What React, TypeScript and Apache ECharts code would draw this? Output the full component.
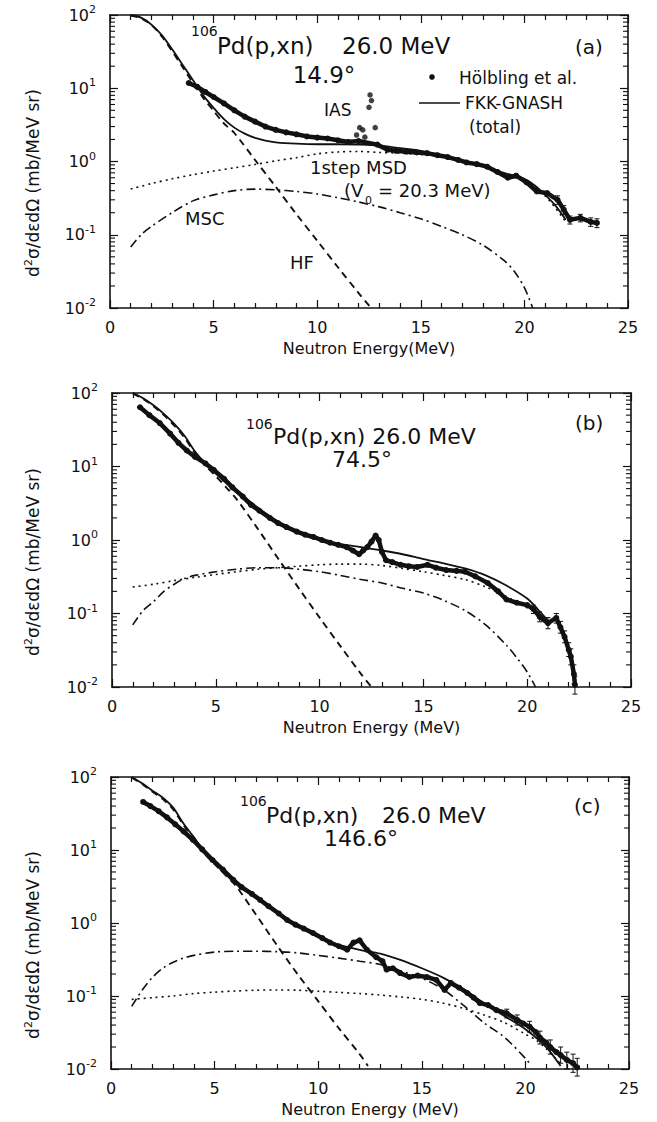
import React, { useEffect, useRef } from "react";
import * as echarts from "echarts";

const FONT = '"DejaVu Sans", "Liberation Sans", sans-serif';
const INK = "#111";

// ---- axes ----
const xMin = 0;
const xMax = 25;
const xStep = 5;
const yMin = 0.01;
const yMax = 100;
const logMinorTicks = [
  0.02, 0.03, 0.04, 0.05, 0.06, 0.07, 0.08, 0.09,
  0.2, 0.3, 0.4, 0.5, 0.6, 0.7, 0.8, 0.9,
  2, 3, 4, 5, 6, 7, 8, 9,
  20, 30, 40, 50, 60, 70, 80, 90,
];

// ---- panel (a) 14.9 deg ----
const aTotal = [[1.0,100],[1.5,92],[2.0,74],[2.5,53],[3.0,34],[3.5,21],[4.0,13],[4.5,8.0],[5.0,5.4],[5.5,3.8],[6.0,2.9],[6.5,2.4],[7.0,2.1],[7.5,1.93],[8.0,1.83],[9.0,1.75],[10.0,1.72],[11.0,1.72],[12.0,1.70],[13.0,1.65],[14.0,1.52],[15.0,1.40],[16.0,1.2],[17.0,1.02],[18.0,0.86],[19.0,0.70],[19.5,0.64],[20.0,0.58],[20.5,0.47],[21.0,0.35],[21.5,0.25],[22.0,0.16]];
const aHF = [[1.0,98],[1.5,90],[2,73],[2.5,51],[3,32],[3.5,19.5],[4,11.8],[4.5,7.4],[5,4.9],[5.5,3.3],[6,2.45],[7,1.05],[8,0.45],[9,0.19],[10,0.083],[11,0.036],[12,0.016],[12.6,0.01]];
const aMSD = [[1.0,0.42],[2,0.5],[3,0.58],[4,0.66],[5,0.74],[6,0.82],[7,0.91],[8,1.02],[9,1.13],[10,1.27],[11,1.35],[12,1.37],[13,1.33],[14,1.3],[15,1.25],[16,1.15],[17,1.0],[18,0.86],[19,0.7],[20,0.55],[21,0.34],[22,0.15]];
const aMSC = [[1.0,0.068],[1.5,0.1],[2,0.13],[3,0.2],[4,0.29],[5,0.35],[6,0.4],[7,0.42],[8,0.41],[9,0.39],[10,0.36],[11,0.32],[12,0.28],[13,0.24],[14,0.2],[15,0.165],[16,0.13],[17,0.1],[18,0.072],[19,0.045],[19.5,0.032],[20,0.019],[20.4,0.01]];
const aData = [[3.8,11.8],[4.2,10.5],[4.6,8.9],[5.0,7.6],[5.5,6.2],[6.0,5.0],[6.5,4.1],[7.0,3.5],[7.5,3.0],[8.0,2.7],[8.5,2.5],[9.0,2.35],[9.5,2.2],[10.0,2.12],[10.5,2.06],[11.0,1.95],[11.5,1.85],[12.0,1.9],[12.9,1.7],[13.4,1.45],[13.8,1.4],[14.3,1.36],[14.8,1.33],[15.3,1.3],[15.8,1.22],[16.3,1.15],[16.8,1.05],[17.2,0.97],[17.7,0.92],[18.2,0.85],[18.7,0.72],[19.2,0.6],[19.6,0.64],[20.1,0.52],[20.6,0.39],[21.1,0.37],[21.6,0.30],[21.9,0.22],[22.2,0.16],[22.7,0.17],[23.2,0.15],[23.5,0.145]];
const aIAS = [[11.9,2.3],[12.05,2.9],[12.2,2.7],[12.3,2.15],[12.5,5.5],[12.55,8.1],[12.62,6.8],[12.8,2.9]];
const aErr = [[21.6,0.26,0.34],[21.9,0.19,0.25],[22.2,0.14,0.18],[22.7,0.15,0.19],[23.2,0.13,0.17],[23.5,0.125,0.165]];

// ---- panel (b) 74.5 deg ----
const bTotal = [[1.0,100],[1.5,85],[2,68],[2.5,52],[3,38],[3.5,26],[4,16],[4.5,11],[5,8.0],[5.5,6.0],[6,4.6],[6.5,3.6],[7,2.8],[7.5,2.2],[8,1.78],[8.5,1.45],[9,1.25],[9.5,1.12],[10,1.0],[11,0.88],[12,0.80],[13,0.72],[14,0.64],[15,0.55],[16,0.48],[17,0.41],[18,0.33],[19,0.24],[20,0.16],[20.5,0.115],[21,0.08]];
const bHF = [[1.0,98],[1.5,83],[2,66],[2.5,50],[3,36],[3.5,24.5],[4,15],[4.5,10.3],[5,7.4],[5.5,5.2],[6,3.6],[7,1.45],[8,0.56],[9,0.22],[10,0.088],[11,0.036],[12,0.015],[12.5,0.01]];
const bMSD = [[1.0,0.23],[2,0.25],[3,0.28],[4,0.31],[5,0.34],[6,0.37],[7,0.4],[8,0.42],[9,0.44],[10,0.46],[11,0.47],[12,0.47],[13,0.45],[14,0.41],[15,0.37],[16,0.33],[17,0.29],[18,0.23],[19,0.17],[20,0.12],[20.5,0.1],[21,0.08]];
const bMSC = [[1.0,0.07],[1.5,0.11],[2,0.145],[2.5,0.2],[3,0.25],[3.5,0.3],[4,0.33],[5,0.37],[6,0.4],[7,0.42],[8,0.42],[9,0.4],[10,0.37],[11,0.33],[12,0.29],[13,0.26],[14,0.22],[15,0.19],[16,0.15],[17,0.11],[18,0.07],[19,0.037],[19.5,0.025],[20,0.016],[20.4,0.01]];
const bData = [[1.35,64],[1.8,50],[2.3,39],[2.8,28],[3.2,21],[3.6,16.5],[4.0,13.5],[4.5,11],[4.9,9.0],[5.4,6.8],[5.8,5.2],[6.3,3.9],[6.7,3.0],[7.1,2.5],[7.6,2.0],[8.0,1.7],[8.4,1.5],[8.9,1.3],[9.3,1.18],[9.7,1.1],[10.1,1.0],[10.5,0.92],[10.9,0.86],[11.3,0.8],[11.6,0.72],[11.9,0.64],[12.1,0.72],[12.3,0.8],[12.5,0.95],[12.7,1.15],[12.85,1.0],[13.0,0.69],[13.2,0.53],[13.5,0.5],[13.9,0.46],[14.3,0.44],[14.7,0.43],[15.2,0.46],[15.6,0.42],[16.1,0.39],[16.6,0.38],[17.0,0.37],[17.5,0.32],[18.1,0.26],[18.6,0.2],[19.0,0.155],[19.5,0.14],[20.0,0.13],[20.3,0.115],[20.6,0.09],[21.0,0.074],[21.4,0.087],[21.6,0.065],[21.8,0.048],[22.0,0.032],[22.1,0.026],[22.25,0.015],[22.3,0.0107]];
const bErr = [[20.3,0.1,0.13],[20.6,0.077,0.105],[21.0,0.062,0.088],[21.4,0.074,0.1],[21.6,0.054,0.078],[21.8,0.04,0.058],[22.0,0.026,0.04],[22.1,0.02,0.033],[22.25,0.011,0.02],[22.3,0.008,0.014]];

// ---- panel (c) 146.6 deg ----
const cTotal = [[1.0,100],[1.5,82],[2,65],[2.5,52],[3,38],[3.5,23],[4,15],[4.5,9.5],[5,6.8],[5.5,4.9],[6,3.7],[6.5,2.9],[7,2.3],[7.5,1.85],[8,1.45],[8.5,1.15],[9,0.92],[9.5,0.76],[10,0.64],[10.5,0.56],[11,0.5],[12,0.43],[13,0.38],[14,0.31],[15,0.24],[16,0.18],[17,0.125],[18,0.08],[19,0.053],[20,0.035],[21,0.02],[21.7,0.011]];
const cHF = [[1.0,98],[1.5,80],[2,63],[2.5,50],[3,36],[3.5,22],[4,14.3],[4.5,9],[5,6.4],[5.5,4.6],[6,3.3],[7,1.3],[8,0.5],[9,0.2],[10,0.085],[11,0.036],[12,0.016],[12.4,0.011]];
const cMSD = [[1.0,0.09],[2,0.095],[3,0.1],[4,0.108],[5,0.113],[6,0.117],[7,0.12],[8,0.121],[9,0.12],[10,0.116],[11,0.112],[12,0.108],[13,0.103],[14,0.097],[15,0.09],[16,0.08],[17,0.068],[18,0.055],[19,0.043],[20,0.03],[20.5,0.025],[21,0.019],[21.5,0.0135],[21.8,0.011]];
const cMSC = [[1.0,0.072],[1.5,0.12],[2,0.18],[2.5,0.24],[3,0.29],[3.5,0.33],[4,0.36],[5,0.4],[6,0.41],[7,0.41],[8,0.405],[9,0.39],[10,0.36],[11,0.33],[12,0.3],[13,0.27],[14,0.22],[15,0.175],[16,0.125],[17,0.075],[18,0.043],[19,0.027],[20,0.014],[20.3,0.011]];
const cData = [[1.55,45.5],[1.9,40],[2.3,34],[2.7,28],[3.1,22.5],[3.5,18],[3.96,13.7],[4.4,10.2],[4.9,7.3],[5.4,5.4],[5.9,3.9],[6.3,3.1],[6.8,2.5],[7.2,2.07],[7.6,1.7],[8.1,1.35],[8.5,1.1],[8.9,0.95],[9.3,0.84],[9.75,0.73],[10.2,0.62],[10.57,0.54],[11.0,0.48],[11.4,0.43],[11.7,0.54],[12.0,0.58],[12.35,0.43],[12.8,0.34],[13.1,0.3],[13.3,0.23],[13.6,0.24],[13.95,0.206],[14.4,0.182],[14.8,0.19],[15.25,0.182],[15.7,0.166],[16.1,0.121],[16.4,0.151],[16.8,0.13],[17.2,0.11],[17.5,0.095],[17.8,0.08],[18.2,0.075],[18.6,0.064],[19.1,0.058],[19.6,0.047],[19.9,0.042],[20.2,0.038],[20.5,0.032],[20.7,0.027],[21.0,0.023],[21.2,0.02],[21.5,0.017],[21.7,0.0155],[22.0,0.0133],[22.3,0.012],[22.5,0.0105]];
const cErr = [[19.1,0.05,0.066],[19.6,0.04,0.055],[20.2,0.032,0.045],[20.7,0.022,0.033],[21.2,0.016,0.025],[21.7,0.012,0.02],[22.0,0.01,0.017],[22.3,0.009,0.016],[22.5,0.008,0.014]];

const xNames = ["Neutron Energy(MeV)", "Neutron Energy (MeV)", "Neutron Energy (MeV)"];
const grids = [
  { left: 110, top: 15, width: 518, height: 293 },
  { left: 112, top: 393, width: 519, height: 294 },
  { left: 111, top: 777, width: 518, height: 292 },
];

const panels = [
  { total: aTotal, hf: aHF, msd: aMSD, msc: aMSC, data: aData, extra: aIAS, err: aErr },
  { total: bTotal, hf: bHF, msd: bMSD, msc: bMSC, data: bData, extra: [], err: bErr },
  { total: cTotal, hf: cHF, msd: cMSD, msc: cMSC, data: cData, extra: [], err: cErr },
];

function txt(x: number, y: number, text: string, size: number, align = "left", extra: any = {}) {
  return {
    type: "text",
    x,
    y,
    z: 100,
    silent: true,
    style: {
      text,
      fontSize: size,
      fontFamily: FONT,
      fill: INK,
      lineHeight: size,
      align,
      verticalAlign: "middle",
      textAlign: align,
      textVerticalAlign: "middle",
      ...extra,
    },
  };
}

function buildOption() {
  const xAxis: any[] = [];
  const yAxis: any[] = [];
  const series: any[] = [];
  grids.forEach((g, i) => {
    const xBase = {
      gridIndex: i,
      type: "value",
      min: xMin,
      max: xMax,
      interval: xStep,
      axisLine: { show: true, onZero: false, lineStyle: { color: INK, width: 1.6 } },
      axisTick: { show: true, inside: true, length: 8, lineStyle: { color: INK, width: 1.2 } },
      minorTick: { show: true, splitNumber: 5, length: 5, lineStyle: { color: INK, width: 1.2 } },
      splitLine: { show: false },
      minorSplitLine: { show: false },
    };
    xAxis.push({
      ...xBase,
      position: "bottom",
      axisLabel: { show: true, fontSize: 16, fontFamily: FONT, color: INK, margin: 11 },
      name: xNames[i],
      nameLocation: "middle",
      nameGap: 32,
      nameTextStyle: { fontSize: 16, fontFamily: FONT, color: INK },
    });
    xAxis.push({ ...xBase, position: "top", axisLabel: { show: false } });
    const yBase = {
      gridIndex: i,
      type: "log",
      logBase: 10,
      min: yMin,
      max: yMax,
      axisLine: { show: true, onZero: false, lineStyle: { color: INK, width: 1.6 } },
      axisTick: { show: true, inside: true, length: 8, lineStyle: { color: INK, width: 1.2 } },
      splitLine: { show: false },
    };
    yAxis.push({
      ...yBase,
      position: "left",
      axisLabel: {
        show: true,
        margin: 14,
        color: INK,
        formatter: (v: number) => `{b|10}{s|${Math.round(Math.log10(v))}}`,
        rich: {
          b: { fontSize: 16, fontFamily: FONT, color: INK, lineHeight: 22 },
          s: { fontSize: 11, fontFamily: FONT, color: INK, lineHeight: 11, verticalAlign: "top" },
        },
      },
    });
    yAxis.push({ ...yBase, position: "right", axisLabel: { show: false } });

    const p = panels[i];
    const common = { xAxisIndex: 2 * i, yAxisIndex: 2 * i, showSymbol: false, silent: true };
    series.push({ ...common, type: "line", data: p.msc, smooth: 0.3, lineStyle: { color: INK, width: 1.6, type: [9, 4, 2, 4] }, z: 3 });
    series.push({ ...common, type: "line", data: p.msd, smooth: 0.3, lineStyle: { color: INK, width: 1.6, type: [2, 4] }, z: 3 });
    series.push({ ...common, type: "line", data: p.hf, smooth: 0.3, lineStyle: { color: INK, width: 1.9, type: [7, 5] }, z: 3 });
    series.push({ ...common, type: "line", data: p.total, smooth: 0.3, lineStyle: { color: INK, width: 1.8 }, z: 4 });
    series.push({
      ...common,
      type: "line",
      data: p.data,
      showSymbol: true,
      showAllSymbol: true,
      symbol: "circle",
      symbolSize: 6,
      itemStyle: { color: INK },
      lineStyle: { color: INK, width: 4.5 },
      z: 5,
    });
    if (p.extra.length) {
      series.push({
        xAxisIndex: 2 * i,
        yAxisIndex: 2 * i,
        type: "scatter",
        data: p.extra,
        symbol: "circle",
        symbolSize: 5.5,
        itemStyle: { color: INK },
        silent: true,
        z: 5,
      });
    }
    series.push({
      xAxisIndex: 2 * i,
      yAxisIndex: 2 * i,
      type: "custom",
      silent: true,
      data: p.err,
      encode: { x: 0, y: [1, 2] },
      z: 5,
      renderItem: (params: any, api: any) => {
        const x = api.value(0);
        const a = api.coord([x, api.value(1)]);
        const b = api.coord([x, api.value(2)]);
        const st = { stroke: INK, lineWidth: 1 };
        return {
          type: "group",
          children: [
            { type: "line", shape: { x1: a[0], y1: a[1], x2: b[0], y2: b[1] }, style: st },
            { type: "line", shape: { x1: a[0] - 2.5, y1: a[1], x2: a[0] + 2.5, y2: a[1] }, style: st },
            { type: "line", shape: { x1: b[0] - 2.5, y1: b[1], x2: b[0] + 2.5, y2: b[1] }, style: st },
          ],
        };
      },
    });
    // log minor ticks on left and right frame
    series.push({
      xAxisIndex: 2 * i,
      yAxisIndex: 2 * i,
      type: "custom",
      silent: true,
      clip: false,
      data: logMinorTicks.map((v) => [xMin, v]),
      z: 6,
      renderItem: (params: any, api: any) => {
        const v = api.value(1);
        const l = api.coord([xMin, v]);
        const r = api.coord([xMax, v]);
        const st = { stroke: INK, lineWidth: 1.1 };
        return {
          type: "group",
          children: [
            { type: "line", shape: { x1: l[0], y1: l[1], x2: l[0] + 5, y2: l[1] }, style: st },
            { type: "line", shape: { x1: r[0] - 5, y1: r[1], x2: r[0], y2: r[1] }, style: st },
          ],
        };
      },
    });
  });

  const yName = (cy: number) => ({
    type: "text",
    x: 33,
    y: cy,
    rotation: Math.PI / 2,
    silent: true,
    style: {
      text: "{n|d}{s|2}{n|σ/dεdΩ (mb/MeV sr)}",
      align: "center",
      verticalAlign: "middle",
      textAlign: "center",
      textVerticalAlign: "middle",
      fill: INK,
      rich: {
        n: { fontSize: 17, fontFamily: FONT, fill: INK, color: INK, lineHeight: 21 },
        s: { fontSize: 11, fontFamily: FONT, fill: INK, color: INK, lineHeight: 10, verticalAlign: "top" },
      },
    },
  });

  const graphic: any[] = [
    yName(183),
    yName(562),
    yName(945),
    // panel (a)
    txt(191, 31, "106", 14),
    txt(217, 46, "Pd(p,xn)", 23),
    txt(342, 46, "26.0 MeV", 23),
    txt(324, 75, "14.9°", 23, "center"),
    txt(575, 47, "(a)", 20),
    { type: "circle", shape: { cx: 432, cy: 77, r: 2.8 }, style: { fill: INK }, silent: true, z: 100 },
    txt(459, 78, "Hölbling et al.", 17),
    { type: "line", shape: { x1: 419, y1: 103, x2: 460, y2: 103 }, style: { stroke: INK, lineWidth: 1.7 }, silent: true, z: 100 },
    txt(465, 103, "FKK-GNASH", 17),
    txt(469, 127, "(total)", 17),
    txt(324, 110, "IAS", 17),
    txt(310, 167, "1step MSD", 18),
    txt(344, 190, "(V", 18),
    txt(365, 200, "0", 11),
    txt(378, 190, "= 20.3 MeV)", 18),
    txt(185, 218, "MSC", 18),
    txt(290, 262, "HF", 18),
    // panel (b)
    txt(246, 424, "106", 14),
    txt(273, 436, "Pd(p,xn) 26.0 MeV", 22),
    txt(362, 459, "74.5°", 22, "center"),
    txt(575, 423, "(b)", 20),
    // panel (c)
    txt(240, 801, "106", 14),
    txt(266, 815, "Pd(p,xn)", 22),
    txt(382, 815, "26.0 MeV", 22),
    txt(361, 838, "146.6°", 22, "center"),
    txt(574, 806, "(c)", 20),
  ];

  return {
    animation: false,
    backgroundColor: "#ffffff",
    grid: grids.map((g) => ({ ...g, containLabel: false })),
    xAxis,
    yAxis,
    series,
    graphic,
  };
}

export default function App() {
  const ref = useRef<HTMLDivElement>(null);
  useEffect(() => {
    if (!ref.current) return;
    const chart = echarts.init(ref.current, undefined, { renderer: "svg" });
    chart.setOption(buildOption() as any);
    return () => chart.dispose();
  }, []);
  return (
    <div
      ref={ref}
      style={{ position: "absolute", left: 0, top: 0, width: 657, height: 1122, background: "#fff" }}
    />
  );
}
